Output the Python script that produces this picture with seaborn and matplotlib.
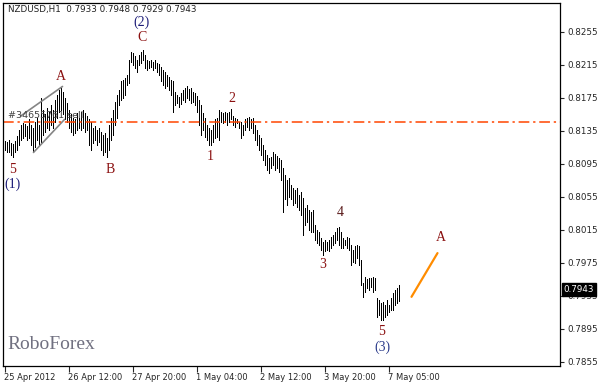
import matplotlib
matplotlib.use('Agg')
import pandas as pd
import seaborn as sns
import matplotlib.pyplot as plt
import matplotlib.transforms as mtransforms

# данные графика NZDUSD H1 (максимумы / минимумы баров)
symbol = 'NZDUSD,H1'
last_ohlc = [0.7933, 0.7948, 0.7929, 0.7943]

high = [0.8123, 0.8122, 0.8124, 0.8121, 0.8119, 0.8123, 0.8129, 0.8136, 0.8142, 0.8145,
        0.8144, 0.8141, 0.8149, 0.8142, 0.8139, 0.8146, 0.8151, 0.8142, 0.8175, 0.8161,
        0.8155, 0.8163, 0.8158, 0.8167, 0.8161, 0.8173, 0.8179, 0.8185, 0.8187, 0.8182,
        0.8175, 0.8169, 0.8161, 0.8155, 0.8151, 0.8149, 0.8157, 0.8151, 0.8158, 0.8161,
        0.8157, 0.8153, 0.8149, 0.8146, 0.8139, 0.8141, 0.8136, 0.8139, 0.8134, 0.8130,
        0.8133, 0.8127, 0.8142, 0.8151, 0.8161, 0.8170, 0.8179, 0.8185, 0.8195, 0.8197,
        0.8199, 0.8203, 0.8221, 0.8231, 0.8230, 0.8226, 0.8221, 0.8227, 0.8231, 0.8233,
        0.8227, 0.8221, 0.8220, 0.8221, 0.8219, 0.8221, 0.8217, 0.8216, 0.8213, 0.8209,
        0.8207, 0.8203, 0.8201, 0.8197, 0.8195, 0.8182, 0.8179, 0.8176, 0.8181, 0.8185,
        0.8187, 0.8189, 0.8186, 0.8187, 0.8182, 0.8181, 0.8178, 0.8173, 0.8167, 0.8157,
        0.8151, 0.8142, 0.8139, 0.8136, 0.8142, 0.8149, 0.8151, 0.8161, 0.8158, 0.8157,
        0.8158, 0.8157, 0.8158, 0.8162, 0.8153, 0.8151, 0.8149, 0.8146, 0.8146, 0.8142,
        0.8149, 0.8151, 0.8152, 0.8149, 0.8151, 0.8142, 0.8136, 0.8130, 0.8127, 0.8118,
        0.8112, 0.8106, 0.8102, 0.8104, 0.8109, 0.8107, 0.8105, 0.8102, 0.8100, 0.8090,
        0.8082, 0.8076, 0.8078, 0.8070, 0.8066, 0.8064, 0.8066, 0.8058, 0.8061, 0.8054,
        0.8042, 0.8045, 0.8039, 0.8037, 0.8039, 0.8021, 0.8015, 0.8013, 0.8005, 0.8001,
        0.8003, 0.8001, 0.8003, 0.8007, 0.8009, 0.8012, 0.8018, 0.8019, 0.8013, 0.8005,
        0.8003, 0.8007, 0.8005, 0.7997, 0.7991, 0.7995, 0.7997, 0.7995, 0.7979, 0.7951,
        0.7958, 0.7955, 0.7957, 0.7957, 0.7958, 0.7957, 0.7933, 0.7930, 0.7927, 0.7928,
        0.7924, 0.7930, 0.7924, 0.7933, 0.7939, 0.7942, 0.7945, 0.7948]

low = [0.8112, 0.8110, 0.8109, 0.8106, 0.8104, 0.8109, 0.8112, 0.8118, 0.8124, 0.8127,
       0.8129, 0.8124, 0.8127, 0.8118, 0.8110, 0.8115, 0.8124, 0.8118, 0.8122, 0.8130,
       0.8134, 0.8139, 0.8136, 0.8142, 0.8139, 0.8146, 0.8151, 0.8158, 0.8161, 0.8155,
       0.8149, 0.8146, 0.8139, 0.8134, 0.8130, 0.8133, 0.8136, 0.8139, 0.8136, 0.8139,
       0.8134, 0.8136, 0.8118, 0.8112, 0.8121, 0.8124, 0.8118, 0.8122, 0.8112, 0.8106,
       0.8110, 0.8104, 0.8112, 0.8124, 0.8130, 0.8142, 0.8151, 0.8167, 0.8173, 0.8175,
       0.8179, 0.8191, 0.8193, 0.8219, 0.8215, 0.8211, 0.8207, 0.8215, 0.8217, 0.8221,
       0.8211, 0.8209, 0.8211, 0.8213, 0.8209, 0.8211, 0.8207, 0.8203, 0.8195, 0.8191,
       0.8187, 0.8190, 0.8185, 0.8179, 0.8158, 0.8167, 0.8169, 0.8164, 0.8168, 0.8173,
       0.8170, 0.8175, 0.8173, 0.8169, 0.8170, 0.8167, 0.8158, 0.8142, 0.8130, 0.8136,
       0.8128, 0.8124, 0.8118, 0.8118, 0.8122, 0.8127, 0.8128, 0.8124, 0.8146, 0.8145,
       0.8146, 0.8142, 0.8146, 0.8149, 0.8142, 0.8140, 0.8145, 0.8139, 0.8127, 0.8130,
       0.8136, 0.8140, 0.8136, 0.8139, 0.8133, 0.8124, 0.8118, 0.8112, 0.8106, 0.8100,
       0.8094, 0.8088, 0.8084, 0.8090, 0.8094, 0.8088, 0.8090, 0.8085, 0.8076, 0.8037,
       0.8052, 0.8045, 0.8055, 0.8052, 0.8045, 0.8048, 0.8043, 0.8039, 0.8033, 0.8009,
       0.8021, 0.8025, 0.8015, 0.8013, 0.8012, 0.8003, 0.7999, 0.7997, 0.7991, 0.7985,
       0.7989, 0.7991, 0.7990, 0.7993, 0.7997, 0.7999, 0.8003, 0.7997, 0.7993, 0.7993,
       0.7997, 0.7993, 0.7991, 0.7973, 0.7976, 0.7975, 0.7981, 0.7973, 0.7948, 0.7934,
       0.7940, 0.7945, 0.7942, 0.7946, 0.7940, 0.7942, 0.7909, 0.7912, 0.7906, 0.7906,
       0.7910, 0.7912, 0.7916, 0.7918, 0.7918, 0.7924, 0.7927, 0.7929]

time_labels = ['25 Apr 2012', '26 Apr 12:00', '27 Apr 20:00', '1 May 04:00',
               '2 May 12:00', '3 May 20:00', '7 May 05:00']
time_label_bars = [0, 32, 64, 96, 128, 160, 192]

price_ticks = [0.8255, 0.8215, 0.8175, 0.8135, 0.8095, 0.8055,
               0.8015, 0.7975, 0.7935, 0.7895, 0.7855]

order_price = 0.8146
order_label = '#34655761 sell'

# разметка волн: текст, бар, цена, цвет
waves = [('(2)', 68.5, 0.8267, '#1c1c78'), ('C', 69, 0.8248, '#8b1010'),
         ('A', 28, 0.8201, '#8b1010'), ('5', 4, 0.8088, '#8b1010'),
         ('(1)', 4, 0.8071, '#1c1c78'), ('B', 53, 0.8088, '#8b1010'),
         ('2', 113.5, 0.8174, '#8b1010'), ('1', 103, 0.8104, '#8b1010'),
         ('4', 168, 0.8036, '#5a1a1a'), ('3', 159, 0.7973, '#8b1010'),
         ('5', 188.5, 0.7892, '#8b1010'), ('(3)', 189, 0.7873, '#2a3a8a'),
         ('A', 218, 0.80055, '#8b1010')]

# прогноз и фигура (линии)
forecast_bar = [203.5, 216.5]
forecast_price = [0.7934, 0.7987]
wedge_up_bar = [8, 29]
wedge_up_price = [0.8153, 0.8189]
wedge_dn_bar = [14.5, 30]
wedge_dn_price = [0.8109, 0.8149]

df = pd.DataFrame({'bar': range(len(high)), 'high': high, 'low': low})

sns.set_style('white')
plt.rcParams['font.family'] = ['DejaVu Sans']

fig = plt.figure(figsize=(6, 3.83), dpi=100)
ax = fig.add_axes([3 / 600, 17 / 383, 557 / 600, 363 / 383])

# бары по 1 пикселю, через пиксель
ax.vlines(df['bar'], df['low'], df['high'], color='black', linewidth=0.72, antialiased=False)

sns.lineplot(x=wedge_up_bar, y=wedge_up_price, ax=ax, color='#858585', linewidth=1.2)
sns.lineplot(x=wedge_dn_bar, y=wedge_dn_price, ax=ax, color='#858585', linewidth=1.2)
sns.lineplot(x=forecast_bar, y=forecast_price, ax=ax, color='#ff8c00', linewidth=1.6)

ax.axhline(order_price, color='#ff4500', linewidth=1.1, linestyle=(0, (7, 2.5, 1.5, 2.5)))
ax.text(2, order_price + 0.0002, order_label, fontsize=6.8, color='#404040', va='bottom', ha='left')

for txt, b, p, c in waves:
    ax.text(b, p, txt, fontsize=10, color=c, ha='center', va='center', family='Liberation Serif')

ax.text(0.008, 0.06, 'RoboForex', transform=ax.transAxes, fontsize=14, color='#707080',
        family='Liberation Serif', ha='left', va='center')
ax.text(0.009, 0.982, symbol + '  ' + ' '.join('%.4f' % v for v in last_ohlc),
        transform=ax.transAxes, fontsize=6.3, color='#202020', ha='left', va='center')

# сдвиг на полпикселя, чтобы бары попадали в центр пикселя
ax.set_xlim(-0.75, 277.75)
ax.set_ylim(0.785015, 0.829015)

ax.set_xticks(time_label_bars)
ax.set_xticklabels(time_labels, fontsize=6, ha='left')
ax.yaxis.tick_right()
ax.set_yticks(price_ticks)
ax.set_yticklabels(['%.4f' % v for v in price_ticks], fontsize=6.3)
ax.tick_params(axis='x', length=4, width=0.8, pad=1, direction='out', bottom=True)
ax.tick_params(axis='y', length=3, width=0.8, pad=2, direction='out', right=True)

for s in ax.spines.values():
    s.set_color('black')
    s.set_linewidth(0.9)

# текущая цена в рамке справа
trans = mtransforms.blended_transform_factory(ax.transAxes, ax.transData)
ax.text(1.006, last_ohlc[3], '%.4f' % last_ohlc[3], transform=trans, fontsize=6.3,
        color='white', ha='left', va='center',
        bbox=dict(facecolor='black', edgecolor='black', pad=1.2))

plt.savefig('out.png', dpi=100)
